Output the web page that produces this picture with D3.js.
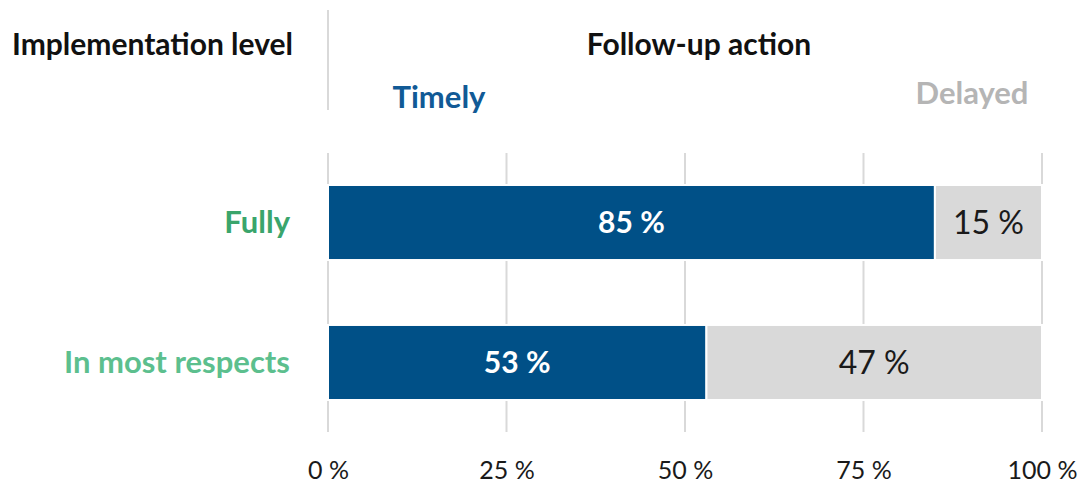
<!DOCTYPE html>
<html><head><meta charset="utf-8">
<script src="https://cdn.jsdelivr.net/npm/d3@7"></script>
<style>body{margin:0;background:#fff}svg{display:block}text{font-family:Lato,"Open Sans",sans-serif}</style>
</head><body>
<svg id="c" width="1085" height="485"></svg>
<script>
const categories = ["Fully", "In most respects"];
const timely = [85, 53];
const delayed = [15, 47];
const tickValues = [0, 25, 50, 75, 100];
const tickLabels = ["0 %", "25 %", "50 %", "75 %", "100 %"];
const catColors = ["#3aa56c", "#5cbf8e"];

const svg = d3.select("#c");
const x = d3.scaleLinear().domain([0, 100]).range([328, 1042]);
const y = d3.scaleBand().domain(categories).range([150, 435]).paddingInner(0.464).paddingOuter(0.25);

// gridlines
svg.append("g").selectAll("line").data(tickValues).join("line")
  .attr("x1", d => x(d)).attr("x2", d => x(d)).attr("y1", 153).attr("y2", 432)
  .attr("stroke", "#d9d9d9").attr("stroke-width", 2);

// header divider
svg.append("line").attr("x1", 328).attr("x2", 328).attr("y1", 10).attr("y2", 110)
  .attr("stroke", "#d9d9d9").attr("stroke-width", 2);

const rows = categories.map((c, i) => ({c, t: timely[i], d: delayed[i]}));
const g = svg.append("g");
g.selectAll("rect.t").data(rows).join("rect").attr("class", "t")
  .attr("x", x(0)).attr("y", d => y(d.c)).attr("width", d => x(d.t) - x(0)).attr("height", y.bandwidth())
  .attr("fill", "#005087").attr("stroke", "#fff").attr("stroke-width", 2);
g.selectAll("rect.d").data(rows).join("rect").attr("class", "d")
  .attr("x", d => x(d.t)).attr("y", d => y(d.c)).attr("width", d => x(d.t + d.d) - x(d.t)).attr("height", y.bandwidth())
  .attr("fill", "#d9d9d9").attr("stroke", "#fff").attr("stroke-width", 2);

g.selectAll("text.tl").data(rows).join("text").attr("class", "tl")
  .attr("x", d => x(d.t / 2)).attr("y", d => y(d.c) + y.bandwidth() / 2).attr("dy", "0.35em")
  .attr("text-anchor", "middle").attr("fill", "#fff").attr("font-size", 30).attr("font-weight", 700)
  .text(d => d.t + " %");
g.selectAll("text.dl").data(rows).join("text").attr("class", "dl")
  .attr("x", d => x(d.t + d.d / 2)).attr("y", d => y(d.c) + y.bandwidth() / 2).attr("dy", "0.35em")
  .attr("text-anchor", "middle").attr("fill", "#1a1a1a").attr("font-size", 32)
  .text(d => d.d + " %");

// category labels
svg.selectAll("text.cat").data(categories).join("text").attr("class", "cat")
  .attr("x", 290).attr("y", d => y(d) + y.bandwidth() / 2).attr("dy", "0.35em")
  .attr("text-anchor", "end").attr("font-size", 31).attr("font-weight", 700)
  .attr("fill", (d, i) => catColors[i]).text(d => d);

// x axis
const axis = d3.axisBottom(x).tickValues(tickValues).tickFormat((d, i) => tickLabels[i]).tickSize(0).tickPadding(0);
const ax = svg.append("g").attr("transform", "translate(0,462)").call(axis);
ax.select(".domain").remove();
ax.selectAll("text").attr("font-size", 25).attr("fill", "#1a1a1a").attr("font-family", "Lato,'Open Sans',sans-serif").attr("dy", "0.35em").attr("y", 8);

// headers
svg.append("text").attr("x", 12).attr("y", 55).attr("font-size", 30).attr("font-weight", 700).attr("fill", "#111").text("Implementation level");
svg.append("text").attr("x", 699).attr("y", 55).attr("text-anchor", "middle").attr("font-size", 30).attr("font-weight", 700).attr("fill", "#111").text("Follow-up action");
svg.append("text").attr("x", 439).attr("y", 108).attr("text-anchor", "middle").attr("font-size", 31).attr("font-weight", 700).attr("fill", "#115a96").text("Timely");
svg.append("text").attr("x", 972).attr("y", 104).attr("text-anchor", "middle").attr("font-size", 31).attr("font-weight", 700).attr("fill", "#b5b5b5").text("Delayed");
</script>
</body></html>
